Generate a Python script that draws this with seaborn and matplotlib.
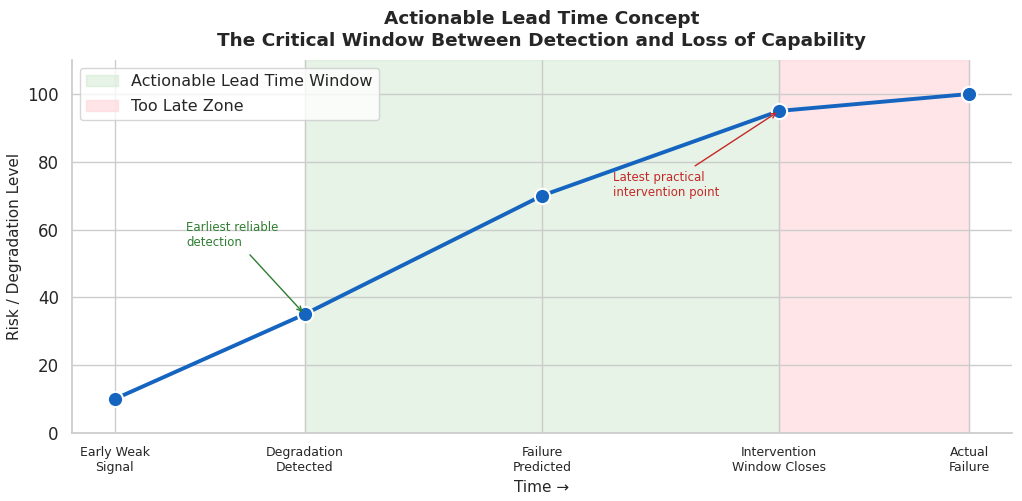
import numpy as np
import matplotlib
matplotlib.use("Agg")
import matplotlib.pyplot as plt
import pandas as pd
import seaborn as sns

####data####
stages = ["Early Weak\nSignal", "Degradation\nDetected", "Failure\nPredicted",
          "Intervention\nWindow Closes", "Actual\nFailure"]
time_pos = [0, 2, 4.5, 7, 9]
risk = [10, 35, 70, 95, 100]

####figure settings####
sns.set_theme(style="whitegrid")
plt.rcParams["font.family"] = ["DejaVu Sans"]

df = pd.DataFrame({"time": time_pos, "risk": risk})

fig, ax = plt.subplots(figsize=(10.22, 5.01), dpi=100)
fig.subplots_adjust(left=0.0705, right=0.990, top=0.880, bottom=0.136)

ax.axvspan(time_pos[1], time_pos[3], color="#c8e6c9", alpha=0.45,
           label="Actionable Lead Time Window", zorder=0)
ax.axvspan(time_pos[3], time_pos[4], color="#ffcdd2", alpha=0.5,
           label="Too Late Zone", zorder=0)

sns.lineplot(data=df, x="time", y="risk", ax=ax, color="#1565c0", linewidth=2.8,
             marker="o", markersize=11, markeredgecolor="white",
             markeredgewidth=1.5, zorder=3)

ax.annotate("Earliest reliable\ndetection", xy=(time_pos[1], risk[1]),
            xytext=(0.75, 55), color="#2e7d32", fontsize=8.5,
            arrowprops=dict(arrowstyle="->", color="#2e7d32", lw=1))
ax.annotate("Latest practical\nintervention point", xy=(time_pos[3], risk[3]),
            xytext=(5.25, 70), color="#c62828", fontsize=8.5,
            arrowprops=dict(arrowstyle="->", color="#c62828", lw=1))

ax.set_xlim(-0.45, 9.45)
ax.set_ylim(0, 110)
ax.set_xticks(time_pos)
ax.set_xticklabels(stages, fontsize=9)
ax.tick_params(axis="y", labelsize=12)
ax.set_xlabel("Time →", fontsize=11)
ax.set_ylabel("Risk / Degradation Level", fontsize=11)
ax.set_title("Actionable Lead Time Concept\nThe Critical Window Between Detection and Loss of Capability",
             fontsize=13.3, fontweight="bold", linespacing=1.3, pad=10)
ax.legend(loc="upper left", fontsize=11.5, labelspacing=0.6)
sns.despine(ax=ax, top=True, right=True)

plt.savefig("out.png", dpi=100)
